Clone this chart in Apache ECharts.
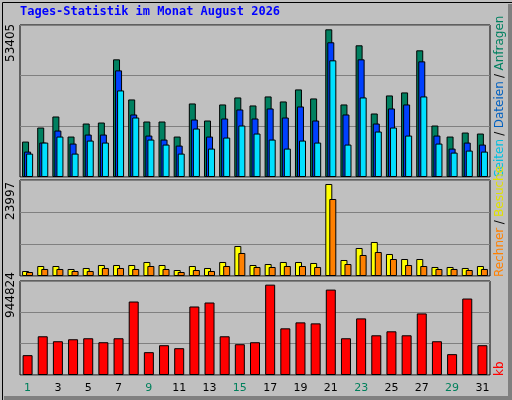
<!DOCTYPE html>
<html><head><meta charset="utf-8">
<script src="https://cdn.jsdelivr.net/npm/echarts@6/dist/echarts.min.js"></script>
<style>html,body{margin:0;padding:0;background:#c0c0c0}#c{width:512px;height:400px}</style>
</head><body><div id="c"></div>
<script>
const days = Array.from({length:31},(_,i)=>String(i+1));
const weekend = [1,2,8,9,15,16,22,23,29,30];
const hits  = [12815,17892,21882,14628,19343,19706,42555,28048,20069,20069,14628,26597,20431,26234,28773,25872,29136,27323,31675,28410,53405,26234,47633,22970,29498,30587,45820,18617,14628,16079,15717];
const files = [9188,12453,16804,12090,15353,15353,38565,22607,14991,13540,11364,20794,14628,21156,24420,21156,24784,21520,25509,20431,48721,22607,42555,19343,24784,26234,41830,14991,10276,12453,11727];
const pages = [8462,12453,14628,8462,13178,12453,31312,21520,13540,11727,8462,17530,10276,14266,18617,15717,13540,10276,13178,12453,42193,11727,28773,16442,17892,14991,29136,12090,8825,9551,9188];
const visits= [1304,2608,2608,1826,2087,2869,2869,2869,3652,2869,1565,2608,2087,3652,7826,2869,3130,3652,3652,3391,23997,4174,7304,8869,5739,4434,4434,2348,2348,2087,2608];
const sites = [1043,1826,1826,1304,1304,2087,2087,1826,2608,1826,1043,1565,1304,2608,6000,2348,2348,2608,2608,2348,20085,3130,5478,6260,4434,2869,2608,1826,1826,1565,1826];
const kbytes= [207660,404937,353022,373788,384171,342639,384171,768342,238809,311490,280341,716427,757959,404937,321873,342639,944824,488001,550299,539916,892938,384171,591831,415320,456852,415320,643746,353022,218043,799491,311490];
const maxLabels = ['53405','23997','944824'];

const chart = echarts.init(document.getElementById('c'));
const grids = [
  {left:20,right:22,top:25,height:152},
  {left:20,right:22,top:180,height:96},
  {left:20,right:22,top:281,height:94}
];
const axMax = [54976, 25040, 982924];
const xAxes = grids.map((g,i)=>({type:'category',gridIndex:i,data:days,
  axisLine:{show:false},axisTick:{show:false},
  axisLabel:{show:i===2,margin:8,fontFamily:'DejaVu Sans',fontSize:11,
    color:(v)=>weekend.includes(+v)?'#00805c':'#000'}}));
const yAxes = axMax.map((m,i)=>({type:'value',gridIndex:i,min:0,max:m,interval:m/3,
  axisLabel:{show:false},axisLine:{show:false},axisTick:{show:false},
  splitLine:{lineStyle:{color:'#808080',width:1}}}));
const bs = (c)=>({color:c,borderColor:'#000',borderWidth:1});
chart.setOption({
  animation:false,
  backgroundColor:'#c0c0c0',
  grid:grids.map(g=>Object.assign({show:true,borderColor:'#000',borderWidth:1,backgroundColor:'transparent'},g)),
  xAxis:xAxes, yAxis:yAxes,
  series:[
    {type:'bar',xAxisIndex:0,yAxisIndex:0,data:hits,barWidth:7,barGap:'-71%',itemStyle:bs('#008060')},
    {type:'bar',xAxisIndex:0,yAxisIndex:0,data:files,barWidth:7,barGap:'-71%',itemStyle:bs('#0040ff')},
    {type:'bar',xAxisIndex:0,yAxisIndex:0,data:pages,barWidth:7,barGap:'-71%',itemStyle:bs('#00e0ff')},
    {type:'bar',xAxisIndex:1,yAxisIndex:1,data:visits,barWidth:7,barGap:'-43%',itemStyle:bs('#ffff00')},
    {type:'bar',xAxisIndex:1,yAxisIndex:1,data:sites,barWidth:7,barGap:'-43%',itemStyle:bs('#ff8000')},
    {type:'bar',xAxisIndex:2,yAxisIndex:2,data:kbytes,barWidth:10,itemStyle:bs('#ff0000')}
  ],
  graphic:[
    {type:'rect',left:0,top:0,shape:{width:511,height:399},style:{fill:'none',stroke:'#000',lineWidth:1},z:-1},
    {type:'rect',left:508,top:4,shape:{width:4,height:396},style:{fill:'#808080'}},
    {type:'rect',left:4,top:396,shape:{width:508,height:4},style:{fill:'#808080'}},
    {type:'text',left:20,top:6,style:{text:'Tages-Statistik im Monat August 2026',fill:'#0000ff',
      font:'bold 12px "DejaVu Sans Mono"'}},
    {type:'text',x:5,y:62,rotation:Math.PI/2,style:{text:maxLabels[0],fill:'#000',font:'12px "DejaVu Sans"',align:'left',verticalAlign:'top'}},
    {type:'text',x:5,y:220,rotation:Math.PI/2,style:{text:maxLabels[1],fill:'#000',font:'12px "DejaVu Sans"',align:'left',verticalAlign:'top'}},
    {type:'text',x:5,y:318,rotation:Math.PI/2,style:{text:maxLabels[2],fill:'#000',font:'12px "DejaVu Sans"',align:'left',verticalAlign:'top'}},
    {type:'text',x:494,y:177,rotation:Math.PI/2,style:{
      text:'{a|Seiten} {s|/} {b|Dateien} {s|/} {c|Anfragen}',align:'left',verticalAlign:'top',
      rich:{a:{fill:'#00c0e0',font:'12px "DejaVu Sans"'},b:{fill:'#0060c0',font:'12px "DejaVu Sans"'},
            c:{fill:'#008060',font:'12px "DejaVu Sans"'},s:{fill:'#000',font:'12px "DejaVu Sans"'}}}},
    {type:'text',x:494,y:277,rotation:Math.PI/2,style:{
      text:'{a|Rechner} {s|/} {b|Besuche}',align:'left',verticalAlign:'top',
      rich:{a:{fill:'#ff8000',font:'12px "DejaVu Sans"'},b:{fill:'#e0e000',font:'12px "DejaVu Sans"'},s:{fill:'#000',font:'12px "DejaVu Sans"'}}}},
    {type:'text',x:494,y:376,rotation:Math.PI/2,style:{text:'kb',fill:'#ff0000',font:'12px "DejaVu Sans"',align:'left',verticalAlign:'top'}}
  ]
});
</script></body></html>
